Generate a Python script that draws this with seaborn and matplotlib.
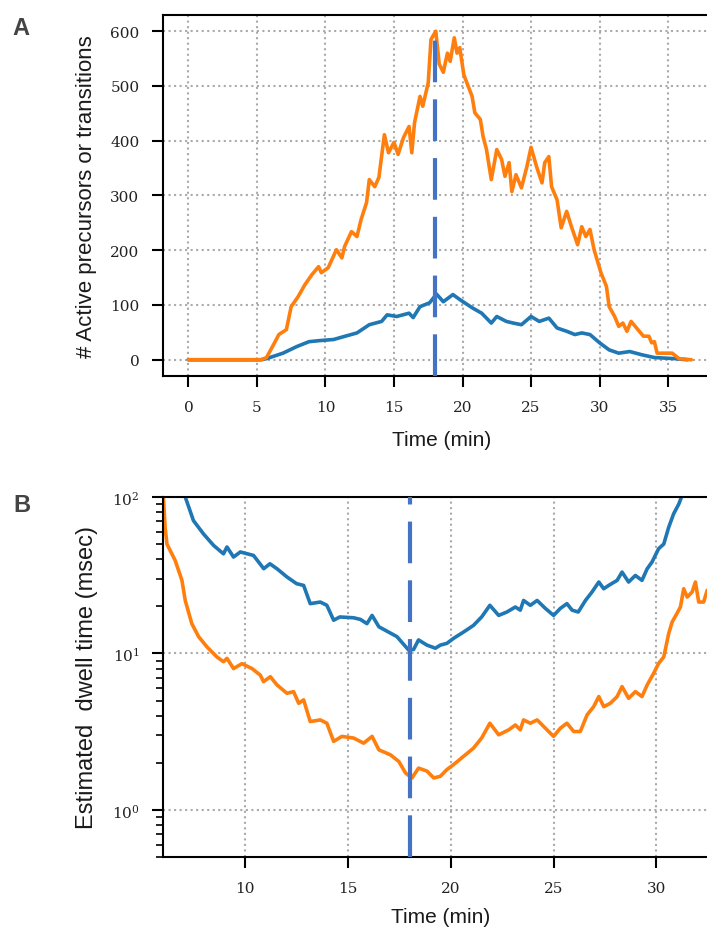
import numpy as np
import pandas as pd
import matplotlib
matplotlib.use('Agg')
import matplotlib.pyplot as plt
import seaborn as sns

# --- data (time in min) ---
# panel A: active precursors (orange) and transitions (blue)
a_orange_t = [0, 5.3, 5.7, 6.2, 6.6, 7.15, 7.5, 8.0, 8.5, 9.0,
              9.5, 9.7, 10.2, 10.8, 11.2, 11.4, 11.9, 12.3, 12.6, 13.0,
              13.2, 13.6, 13.9, 14.3, 14.6, 15.0, 15.3, 15.7, 16.1, 16.3,
              16.5, 16.9, 17.1, 17.5, 17.7, 18.05, 18.3, 18.6, 18.9, 19.1,
              19.4, 19.6, 19.8, 20.1, 20.7, 20.9, 21.3, 21.5, 21.75, 22.1,
              22.5, 22.85, 23.1, 23.4, 23.6, 23.9, 24.3, 24.7, 25.0, 25.4,
              25.8, 26.0, 26.3, 26.5, 26.9, 27.2, 27.6, 27.95, 28.4, 28.7,
              29.0, 29.3, 29.6, 30.1, 30.5, 30.7, 31.1, 31.4, 31.7, 32.0,
              32.3, 32.8, 33.2, 33.6, 33.8, 34.0, 34.2, 35.3, 35.8, 36.7]
a_orange_v = [0, 0, 4, 27, 46, 55, 97, 115, 137, 155,
              170, 159, 168, 201, 186, 207, 234, 225, 256, 287,
              329, 316, 333, 411, 378, 397, 375, 406, 426, 378,
              433, 481, 463, 506, 585, 600, 540, 525, 560, 545,
              588, 560, 570, 520, 481, 451, 439, 408, 384, 329,
              384, 366, 335, 360, 307, 338, 314, 353, 388, 353,
              323, 360, 371, 316, 292, 241, 271, 243, 210, 243,
              225, 238, 201, 159, 134, 97, 79, 61, 67, 52,
              70, 55, 43, 43, 31, 33, 12, 12, 2, 0]

a_blue_t = [0, 5.3, 5.7, 6.9, 7.9, 8.8, 9.6, 10.6, 11.3, 12.3,
            13.2, 14.1, 14.5, 15.2, 16.1, 16.4, 16.9, 17.6, 18.1, 18.6,
            19.3, 19.8, 20.7, 21.4, 22.1, 22.5, 23.2, 23.7, 24.3, 25.0,
            25.6, 26.3, 26.9, 27.6, 28.2, 28.7, 29.3, 30.0, 30.7, 31.4,
            32.2, 33.1, 34.0, 35.5, 36.4]
a_blue_v = [0, 0, 2, 12, 24, 33, 35, 37, 42, 49,
            64, 70, 82, 79, 85, 77, 97, 104, 120, 106,
            119, 110, 95, 85, 67, 79, 70, 67, 64, 79,
            70, 76, 58, 52, 46, 49, 46, 31, 18, 12,
            15, 9, 4, 2, 0]

# panel B: estimated dwell time (msec)
b_blue_t = [6.8, 7.08, 7.48, 7.97, 8.46, 8.94, 9.11, 9.43, 9.76, 10.4,
            10.9, 11.2, 11.54, 12.03, 12.5, 12.84, 13.16, 13.65, 13.97, 14.3,
            14.6, 15.27, 15.6, 15.92, 16.17, 16.5, 16.97, 17.38, 17.95, 18.19,
            18.43, 18.84, 19.25, 19.49, 19.81, 20.14, 20.62, 21.1, 21.5, 21.9,
            22.33, 22.73, 23.14, 23.38, 23.54, 23.87, 24.2, 24.6, 25.0, 25.33,
            25.65, 25.9, 26.2, 26.55, 26.87, 27.2, 27.44, 27.68, 28.09, 28.33,
            28.65, 28.98, 29.3, 29.55, 29.79, 30.11, 30.36, 30.6, 30.84, 31.09,
            31.25, 31.6]
b_blue_v = [118, 100, 70.6, 58, 49, 43.3, 47.9, 41.3, 44.5, 42.3,
            34.8, 37.4, 34.8, 30.8, 27.9, 27.2, 20.8, 21.3, 20.3, 16.3,
            17.1, 16.9, 16.5, 15.5, 17.5, 14.8, 13.7, 12.8, 10.5, 10.6,
            12.2, 11.3, 10.8, 11.3, 11.6, 12.5, 13.7, 15.1, 17.1, 20.3,
            17.5, 18.4, 19.8, 18.9, 21.8, 20.3, 21.8, 19.4, 17.5, 19.4,
            20.8, 18.9, 18.4, 21.8, 24.7, 28.6, 25.9, 27.2, 29.3, 33.1,
            28.6, 31.5, 29.3, 34.7, 38.4, 46.7, 50, 64, 78, 90,
            102, 130]

b_orange_t = [6.0, 6.1, 6.19, 6.59, 6.92, 7.08, 7.4, 7.73, 8.14, 8.62,
              8.94, 9.11, 9.43, 9.84, 10.33, 10.73, 10.89, 11.22, 11.54, 12.03,
              12.35, 12.6, 12.84, 13.16, 13.65, 13.97, 14.3, 14.7, 15.27, 15.76,
              16.17, 16.5, 17.06, 17.47, 17.8, 18.11, 18.43, 18.84, 19.17, 19.49,
              19.81, 20.14, 20.62, 21.1, 21.5, 21.9, 22.33, 22.82, 23.14, 23.38,
              23.54, 23.87, 24.2, 24.6, 25.0, 25.33, 25.65, 25.98, 26.3, 26.63,
              26.95, 27.2, 27.44, 27.76, 28.09, 28.33, 28.65, 28.98, 29.3, 29.55,
              29.87, 30.11, 30.36, 30.6, 30.77, 31.0, 31.17, 31.33, 31.5, 31.74,
              31.9, 32.06, 32.3, 32.47, 33.0]
b_orange_v = [110, 64, 50, 39.3, 29.3, 21.8, 15.5, 12.8, 11.0, 9.5,
              8.85, 9.3, 8.0, 8.6, 8.0, 7.27, 6.6, 7.1, 6.3, 5.56,
              5.7, 4.8, 5.05, 3.67, 3.76, 3.58, 2.74, 2.95, 2.88, 2.67,
              2.95, 2.42, 2.25, 2.04, 1.72, 1.6, 1.85, 1.77, 1.6, 1.64,
              1.81, 1.95, 2.2, 2.48, 2.88, 3.58, 3.02, 3.25, 3.49, 3.25,
              3.76, 3.58, 3.76, 3.33, 2.95, 3.33, 3.58, 3.17, 3.17, 4.05,
              4.57, 5.3, 4.57, 4.8, 5.3, 6.14, 5.17, 5.7, 5.3, 6.28,
              7.47, 8.63, 9.5, 13.4, 15.9, 18, 19.8, 25.9, 22.9, 24.7,
              28.6, 21.3, 21.3, 25.3, 26.0]

peak_time = 18.0
peak_count = 600

# --- style ---
sns.set_theme(style='ticks')
plt.rcParams['font.family'] = ['Liberation Sans', 'DejaVu Sans']
plt.rcParams['mathtext.fontset'] = 'dejavuserif'
plt.rcParams['axes.linewidth'] = 1.5
plt.rcParams['xtick.labelsize'] = 11
plt.rcParams['ytick.labelsize'] = 11

BLUE = '#1f77b4'
ORANGE = '#ff7f0e'
VLINE = '#4472c4'
LABEL_COLOR = '#1a1a1a'
LW = 2.6

fig = plt.figure(figsize=(7.07, 9.29), dpi=100)
ax_a = fig.add_axes([0.2306, 0.594, 0.789, 0.389])
ax_b = fig.add_axes([0.2306, 0.0764, 0.785, 0.3876])

# --- panel A ---
sns.lineplot(x=a_blue_t, y=a_blue_v, ax=ax_a, color=BLUE, linewidth=LW)
sns.lineplot(x=a_orange_t, y=a_orange_v, ax=ax_a, color=ORANGE, linewidth=LW)
ax_a.vlines(peak_time, -30, peak_count, colors=VLINE, linewidth=3,
            linestyles=(0, (10, 4.1)), zorder=5)
ax_a.set_xlim(-1.85, 38.85)
ax_a.set_ylim(-30, 630)
ax_a.set_xticks([0, 5, 10, 15, 20, 25, 30, 35])
ax_a.set_yticks([0, 100, 200, 300, 400, 500, 600])
ax_a.set_xlabel('Time (min)', fontsize=15, color=LABEL_COLOR)
ax_a.set_ylabel('# Active precursors or transitions', fontsize=16, color=LABEL_COLOR)
ax_a.xaxis.set_label_coords(0.5, -0.15)
ax_a.yaxis.set_label_coords(-0.118, 0.5)

# --- panel B ---
sns.lineplot(x=b_blue_t, y=b_blue_v, ax=ax_b, color=BLUE, linewidth=LW)
sns.lineplot(x=b_orange_t, y=b_orange_v, ax=ax_b, color=ORANGE, linewidth=LW)
ax_b.set_yscale('log')
ax_b.axvline(peak_time, color=VLINE, linewidth=3, linestyle=(0, (10, 4.1)), zorder=5)
ax_b.set_xlim(6, 33)
ax_b.set_ylim(0.5, 100)
ax_b.set_xticks([10, 15, 20, 25, 30])
ax_b.set_xlabel('Time (min)', fontsize=15, color=LABEL_COLOR)
ax_b.set_ylabel('Estimated  dwell time (msec)', fontsize=17, color=LABEL_COLOR)
ax_b.xaxis.set_label_coords(0.5, -0.139)
ax_b.yaxis.set_label_coords(-0.118, 0.5)

for ax in (ax_a, ax_b):
    ax.grid(True, which='major', linestyle=':', color='#aaaaaa', linewidth=1.5)
    ax.tick_params(which='major', direction='out', length=8, width=1.5,
                   pad=9, color='black', labelsize=11,
                   labelfontfamily='DejaVu Serif', labelcolor='#222222')
    for sp in ax.spines.values():
        sp.set_color('black')
        sp.set_linewidth(1.5)
ax_b.tick_params(axis='y', which='minor', direction='out', length=5, width=1.2, color='black')
ax_b.tick_params(axis='x', which='minor', bottom=False)

# panel letters
fig.text(12 / 707, 1 - 35 / 929, 'A', fontsize=17, fontweight='bold', color='#444444')
fig.text(13 / 707, 1 - 512 / 929, 'B', fontsize=17, fontweight='bold', color='#444444')

# serif tick labels, set once all ticks exist
fig.canvas.draw()
for ax in (ax_a, ax_b):
    for lab in ax.get_xticklabels() + ax.get_yticklabels():
        lab.set_fontfamily('DejaVu Serif')
        lab.set_fontsize(11)
        lab.set_color('#222222')

fig.savefig('out.png', dpi=100)
